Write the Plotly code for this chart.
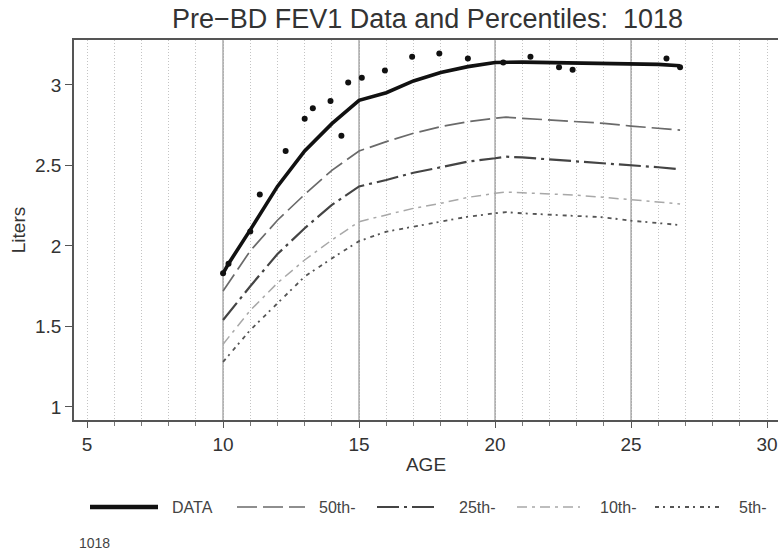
import plotly.graph_objects as go

# ---------------- data ----------------
fit_age = [10, 10.2, 11, 12, 13, 14, 15, 16, 17, 18, 19, 20, 21, 22, 23, 24, 25, 26, 26.8]
fit_val = [1.83, 1.89, 2.10, 2.37, 2.59, 2.76, 2.905, 2.952, 3.025, 3.077, 3.114, 3.14, 3.142, 3.14, 3.137, 3.135, 3.132, 3.128, 3.12]

pt_age = [10.0, 10.2, 11.0, 11.35, 12.3, 13.0, 13.3, 13.95, 14.35, 14.6, 15.1, 15.95, 16.95, 17.95, 19.0, 20.3, 21.3, 22.35, 22.85, 26.3, 26.8]
pt_val = [1.83, 1.89, 2.09, 2.32, 2.59, 2.79, 2.855, 2.90, 2.685, 3.015, 3.045, 3.09, 3.175, 3.195, 3.165, 3.14, 3.175, 3.11, 3.095, 3.165, 3.11]

pct_age = [10, 11, 12, 13, 14, 15, 16, 17, 18, 19, 20, 20.4, 21, 22, 23, 24, 25, 26, 26.8]
p50 = [1.72, 1.97, 2.16, 2.32, 2.47, 2.59, 2.648, 2.70, 2.741, 2.772, 2.793, 2.80, 2.793, 2.783, 2.774, 2.762, 2.745, 2.733, 2.72]
p25 = [1.54, 1.75, 1.95, 2.11, 2.255, 2.37, 2.41, 2.455, 2.489, 2.524, 2.545, 2.555, 2.55, 2.538, 2.528, 2.513, 2.50, 2.489, 2.476]
p10 = [1.39, 1.60, 1.77, 1.913, 2.037, 2.151, 2.193, 2.234, 2.265, 2.302, 2.327, 2.335, 2.331, 2.323, 2.315, 2.302, 2.286, 2.273, 2.261]
p5 = [1.28, 1.478, 1.644, 1.81, 1.923, 2.03, 2.089, 2.12, 2.151, 2.182, 2.203, 2.21, 2.203, 2.195, 2.188, 2.178, 2.157, 2.141, 2.13]

legend_labels = ["DATA", "50th-", "25th-", "10th-", "5th-"]
ref_ages = [10, 15, 20, 25]
x_ticks = [5, 10, 15, 20, 25, 30]
y_ticks = [1, 1.5, 2, 2.5, 3]
subject_id = "1018"
title_text = "Pre\u2212BD FEV1 Data and Percentiles:\u00a0 1018"

# ---------------- styles ----------------
W, H = 778, 554
ML, MR, MT, MB = 74, 0, 40, 134
FONT = "Liberation Sans, Arial, sans-serif"

styles = [
    dict(color="#111111", width=3.6, dash="solid"),
    dict(color="#6a6a6a", width=1.7, dash="20px,6px"),
    dict(color="#444444", width=2.2, dash="22px,5px,3px,5px"),
    dict(color="#a8a8a8", width=1.5, dash="10px,5px,3px,5px"),
    dict(color="#555555", width=1.8, dash="4px,4px,2px,5px"),
]

fig = go.Figure()

series = [(pct_age, p5, 4), (pct_age, p10, 3), (pct_age, p25, 2), (pct_age, p50, 1)]
for xs, ys, k in series:
    fig.add_trace(go.Scatter(x=xs, y=ys, mode="lines", line=styles[k],
                             showlegend=False, hoverinfo="skip"))

fig.add_trace(go.Scatter(x=fit_age, y=fit_val, mode="lines", line=styles[0],
                         showlegend=False))
fig.add_trace(go.Scatter(x=pt_age, y=pt_val, mode="markers",
                         marker=dict(color="#111111", size=6),
                         showlegend=False))

# reference solid vertical lines
for a in ref_ages:
    fig.add_shape(type="line", xref="x", yref="paper", x0=a, x1=a, y0=0, y1=1,
                  line=dict(color="#8a8a8a", width=1.2), layer="below")

# ---------------- custom legend ----------------
def px_x(p):
    return (p - ML) / (W - ML - MR)

def px_y(p):
    return (H - MB - p) / (H - MT - MB)

leg_y = 507
leg_items = [(90, 158, 170), (237, 305, 317), (377, 437, 457), (517, 580, 598), (655, 722, 737)]
for (s0, s1, tx), lab, st in zip(leg_items, legend_labels, styles):
    lst = dict(st)
    if lab == "DATA":
        lst["width"] = 4.5
    fig.add_shape(type="line", xref="paper", yref="paper",
                  x0=px_x(s0), x1=px_x(s1), y0=px_y(leg_y), y1=px_y(leg_y), line=lst)
    fig.add_annotation(xref="paper", yref="paper", x=px_x(tx), y=px_y(leg_y),
                       text=lab, showarrow=False, xanchor="left", yanchor="middle",
                       font=dict(family=FONT, size=16, color="#444444"))

fig.add_annotation(xref="paper", yref="paper", x=px_x(77), y=px_y(543),
                   text=subject_id, showarrow=False, xanchor="left", yanchor="middle",
                   font=dict(family=FONT, size=14, color="#444444"))

fig.update_layout(
    width=W, height=H,
    margin=dict(l=ML, r=MR, t=MT, b=MB, autoexpand=False),
    paper_bgcolor="white", plot_bgcolor="white",
    font=dict(family=FONT, color="#333333"),
    title=dict(text=title_text, x=(ML + (W + 3 - ML) / 2) / W, xanchor="center",
               y=1 - 19 / H, yanchor="middle", yref="container",
               font=dict(family=FONT, size=27, color="#333333")),
    showlegend=False,
)

GRID = "#c4c4c4"
fig.update_xaxes(
    range=[4.52, 30.4], tickvals=x_ticks, ticks="outside", ticklen=6,
    tickcolor="#555555", tickwidth=1.2, automargin=False,
    showline=True, linecolor="#555555", linewidth=1.5, mirror=True,
    showgrid=True, gridcolor=GRID, griddash="1px,2px", gridwidth=1,
    minor=dict(dtick=1, tick0=0, ticks="outside", ticklen=4, tickcolor="#777777",
               showgrid=True, gridcolor=GRID, griddash="1px,2px", gridwidth=1),
    tickfont=dict(family=FONT, size=19, color="#333333"),
    title=dict(text="AGE", font=dict(family=FONT, size=19, color="#333333"), standoff=4),
    zeroline=False,
)
fig.update_yaxes(
    range=[0.919, 3.2795], tickvals=y_ticks, ticktext=["1", "1.5", "2", "2.5", "3"],
    ticks="outside", ticklen=7, tickcolor="#555555", tickwidth=1.2, automargin=False,
    showline=True, linecolor="#555555", linewidth=1.5,
    showgrid=False, zeroline=False,
    tickfont=dict(family=FONT, size=19, color="#333333"),
    title=dict(text="Liters", font=dict(family=FONT, size=19, color="#333333"), standoff=4),
)

fig.write_html("out.html", config={"displayModeBar": False},
               post_script="document.body.style.margin='0px';")
